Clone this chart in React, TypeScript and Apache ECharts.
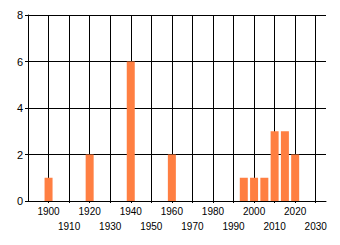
import React, { useEffect, useRef } from "react";
import * as echarts from "echarts";

const years = [1900, 1920, 1940, 1960, 1995, 2000, 2005, 2010, 2015, 2020];
const counts = [1, 2, 6, 2, 1, 1, 1, 3, 3, 2];
const xMin = 1890;
const xMax = 2035;
const yTicks = [0, 2, 4, 6, 8];

export default function App() {
  const ref = useRef<HTMLDivElement>(null);
  useEffect(() => {
    if (!ref.current) return;
    const chart = echarts.init(ref.current, undefined, { renderer: "svg" });
    const font = "Liberation Sans";
    chart.setOption({
      animation: false,
      backgroundColor: "#ffffff",
      grid: { left: 28, top: 15, right: 14, bottom: 44, containLabel: false },
      xAxis: {
        type: "value",
        min: xMin,
        max: xMax,
        interval: 10,
        axisLine: { show: true, onZero: false, lineStyle: { color: "#000", width: 1 } },
        axisTick: { show: true, length: 2, lineStyle: { color: "#000" } },
        splitLine: {
          show: true,
          showMinLine: false,
          showMaxLine: false,
          lineStyle: { color: "#000", width: 1 },
        },
        axisLabel: {
          margin: 3,
          fontFamily: font,
          fontSize: 10,
          color: "#000",
          lineHeight: 15,
          showMinLabel: false,
          showMaxLabel: false,
          formatter: (v: number) => {
            if (v < 1900 || v > 2030) return "";
            return ((v - 1900) / 10) % 2 === 0 ? String(v) : "\n" + v;
          },
        },
      },
      yAxis: {
        type: "value",
        min: yTicks[0],
        max: yTicks[yTicks.length - 1],
        interval: 2,
        axisLine: { show: true, lineStyle: { color: "#000", width: 1 } },
        axisTick: { show: true, length: 3, lineStyle: { color: "#000" } },
        splitLine: { show: true, lineStyle: { color: "#000", width: 1 } },
        axisLabel: {
          margin: 5,
          fontFamily: font,
          fontSize: 11,
          color: "#000",
        },
      },
      series: [
        {
          type: "bar",
          data: years.map((y, i) => [y, counts[i]]),
          barWidth: 8,
          itemStyle: { color: "#ff7f42" },
        },
      ],
    });
    return () => chart.dispose();
  }, []);
  return (
    <div
      ref={ref}
      style={{ position: "fixed", left: 0, top: 0, width: 340, height: 245, background: "#fff" }}
    />
  );
}
